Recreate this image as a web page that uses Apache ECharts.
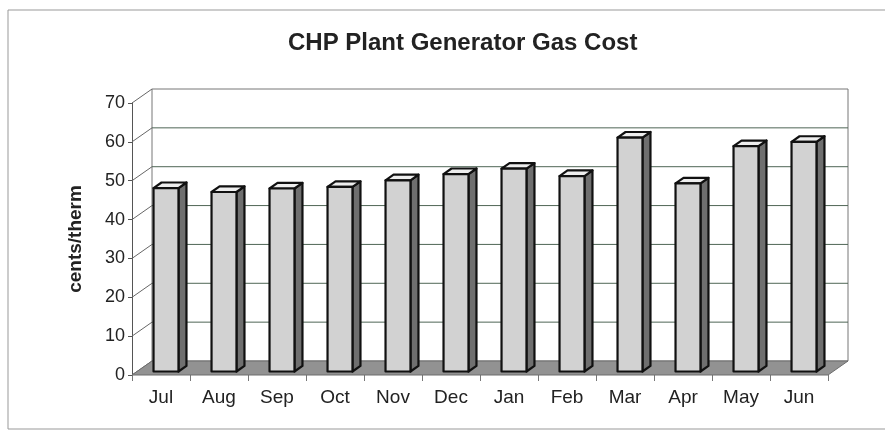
<!DOCTYPE html>
<html>
<head>
<meta charset="utf-8">
<title>CHP Plant Generator Gas Cost</title>
<script src="https://cdn.jsdelivr.net/npm/echarts@6/dist/echarts.min.js"></script>
<style>
  html, body { margin: 0; padding: 0; background: #fff; }
  #chartBox { width: 885px; height: 432px; }
</style>
</head>
<body>
<div id="chartBox"></div>
<script>
  // data
  var months = ['Jul', 'Aug', 'Sep', 'Oct', 'Nov', 'Dec', 'Jan', 'Feb', 'Mar', 'Apr', 'May', 'Jun'];
  var gasCost = [47.2, 46.2, 47.1, 47.5, 49.2, 50.8, 52.2, 50.3, 60.2, 48.4, 58.0, 59.1];
  var yTicks = [0, 10, 20, 30, 40, 50, 60, 70];

  // fake 3d depth (px)
  var DX = 20, DY = -14;
  var FRONT = 0.25, DEPTH = 0.4, FACE = 0.43;

  var myChart = echarts.init(document.getElementById('chartBox'));

  function renderWalls(params, api) {
    var c0 = api.coord([0, 0]);
    var bw = api.size([1, 0])[0];
    var left = c0[0] - bw / 2;
    var right = left + months.length * bw;
    var yTop = api.coord([0, yTicks[yTicks.length - 1]])[1];
    var yBot = c0[1];
    var kids = [];
    // back wall
    kids.push({
      type: 'rect',
      shape: { x: left + DX, y: yTop + DY, width: right - left, height: yBot - yTop },
      style: { fill: '#fff', stroke: '#777', lineWidth: 1 }
    });
    // back grid lines + left wall diagonals
    yTicks.forEach(function (v) {
      var y = api.coord([0, v])[1];
      if (v > 0 && v < yTicks[yTicks.length - 1]) {
        kids.push({
          type: 'line',
          shape: { x1: left + DX, y1: y + DY, x2: right + DX, y2: y + DY },
          style: { stroke: '#4f6656', lineWidth: 1 }
        });
      }
      kids.push({
        type: 'line',
        shape: { x1: left, y1: y, x2: left + DX, y2: y + DY },
        style: { stroke: '#666', lineWidth: 1 }
      });
    });
    // floor
    kids.push({
      type: 'polygon',
      shape: { points: [[left, yBot], [right, yBot], [right + DX, yBot + DY], [left + DX, yBot + DY]] },
      style: { fill: '#929292', stroke: '#6d6d6d', lineWidth: 1 }
    });
    return { type: 'group', children: kids };
  }

  function renderBar(params, api) {
    var idx = api.value(0);
    var top = api.coord([idx, api.value(1)]);
    var base = api.coord([idx, 0]);
    var bw = api.size([1, 0])[0];
    var w = bw * FACE;
    var x0 = top[0] - w / 2 + FRONT * DX;
    var x1 = x0 + w;
    var yT = top[1] + FRONT * DY;
    var yB = base[1] + FRONT * DY;
    var dx = DEPTH * DX, dy = DEPTH * DY;
    var line = { stroke: '#111', lineWidth: 2.2, lineJoin: 'round' };
    return {
      type: 'group',
      children: [
        { type: 'polygon', shape: { points: [[x1, yT], [x1 + dx, yT + dy], [x1 + dx, yB + dy], [x1, yB]] },
          style: Object.assign({ fill: '#6f6f6f' }, line) },
        { type: 'polygon', shape: { points: [[x0, yT], [x0 + dx, yT + dy], [x1 + dx, yT + dy], [x1, yT]] },
          style: Object.assign({ fill: '#eeeeee' }, line) },
        { type: 'rect', shape: { x: x0, y: yT, width: w, height: yB - yT },
          style: Object.assign({ fill: '#d2d2d2' }, line) }
      ]
    };
  }

  var option = {
    animation: false,
    textStyle: { fontFamily: 'Liberation Sans, Arial, sans-serif' },
    title: {
      text: 'CHP Plant Generator Gas Cost',
      left: 283,
      top: 26,
      textStyle: { fontSize: 24, fontWeight: 'bold', color: '#222', fontFamily: 'Liberation Sans, Arial, sans-serif' }
    },
    graphic: [{
      type: 'rect',
      shape: { x: 8, y: 10, width: 900, height: 419 },
      style: { fill: 'none', stroke: '#999', lineWidth: 1 },
      silent: true
    }],
    grid: { left: 132, right: 57, top: 103, bottom: 57 },
    xAxis: {
      type: 'category',
      data: months,
      axisLine: { show: false },
      axisTick: { show: true, length: 6, lineStyle: { color: '#777' } },
      axisLabel: { fontSize: 19, color: '#222', margin: 13 }
    },
    yAxis: {
      type: 'value',
      min: 0,
      max: 70,
      interval: 10,
      name: 'cents/therm',
      nameLocation: 'middle',
      nameGap: 47,
      nameTextStyle: { fontSize: 19, fontWeight: 'bold', color: '#222' },
      axisLine: { show: true, lineStyle: { color: '#555' } },
      axisTick: { show: true, length: 4, lineStyle: { color: '#555' } },
      axisLabel: { fontSize: 18, color: '#222', margin: 7 },
      splitLine: { show: false }
    },
    series: [
      {
        type: 'custom',
        renderItem: renderWalls,
        data: [[0, 0]],
        clip: false,
        silent: true,
        z: 1
      },
      {
        type: 'custom',
        renderItem: renderBar,
        data: gasCost.map(function (v, i) { return [i, v]; }),
        clip: false,
        z: 2
      }
    ]
  };
  myChart.setOption(option);
</script>
</body>
</html>
